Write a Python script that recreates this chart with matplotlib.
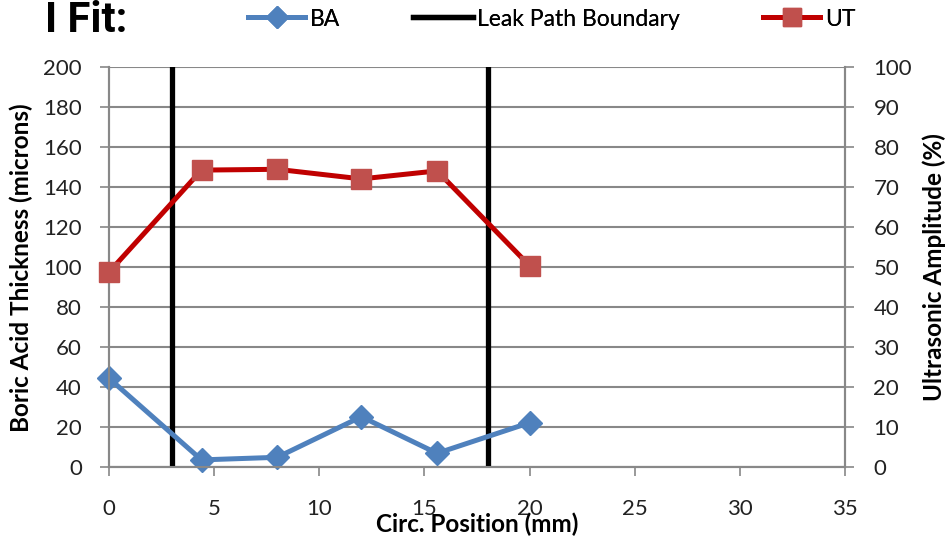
import matplotlib
matplotlib.use("Agg")
import matplotlib.pyplot as plt
from matplotlib.lines import Line2D

# data
position = [0, 4.4, 8, 12, 15.6, 20]
ba_thickness = [44.5, 3.7, 5.0, 25.3, 7.0, 22.3]
ut_amplitude = [48.8, 74.3, 74.5, 72.1, 74.1, 50.4]
leak_bounds = [3, 18]

x_ticks = [0, 5, 10, 15, 20, 25, 30, 35]
left_ticks = list(range(0, 201, 20))
right_ticks = list(range(0, 101, 10))

plt.rcParams["font.family"] = ["Lato", "DejaVu Sans"]

BLUE = "#4f81bd"
RED_LINE = "#c00000"
RED_MARK = "#c0504d"
GRID = "#888888"

fig = plt.figure(figsize=(9.51, 5.39), dpi=100)
ax = fig.add_axes([109 / 951, 1 - 467.3 / 539, 736 / 951, 400 / 539])
ax2 = ax.twinx()

ax.set_xlim(0, 35)
ax.set_ylim(0, 200)
ax2.set_ylim(0, 100)

ax.set_xticks(x_ticks)
ax.set_yticks(left_ticks)
ax2.set_yticks(right_ticks)

ax.grid(axis="y", color=GRID, lw=1.5)
ax.set_axisbelow(True)

for a in (ax, ax2):
    a.spines["top"].set_visible(False)
    for side in ("left", "right", "bottom"):
        a.spines[side].set_color(GRID)
        a.spines[side].set_linewidth(1.5)
    a.tick_params(direction="out", length=6.5, width=1.2, color=GRID,
                  labelsize=16, labelcolor="#222222")

ax.tick_params(axis="x", pad=16)
ax.tick_params(axis="y", pad=13)
ax2.tick_params(axis="y", pad=14)

for xb in leak_bounds:
    ax.axvline(xb, color="black", lw=3.8, zorder=3)

ax.plot(position, ba_thickness, color=BLUE, lw=3.6, marker="D", ms=12.5,
        mfc=BLUE, mec=BLUE, zorder=4, clip_on=False)
ax2.plot(position, ut_amplitude, color=RED_LINE, lw=3.6, marker="s", ms=14.5,
         mfc=RED_MARK, mec=RED_MARK, zorder=4, clip_on=False)

ax.set_xlabel("Circ. Position (mm)", fontsize=17.5, fontweight="bold")
ax.xaxis.set_label_coords(0.5, -0.112)
ax.set_ylabel("Boric Acid Thickness (microns)", fontsize=17.5,
              fontweight="bold")
ax.yaxis.set_label_coords(-0.103, 0.5)
ax2.set_ylabel("Ultrasonic Amplitude (%)", fontsize=17.5, fontweight="bold",
               rotation=90)
ax2.yaxis.set_label_coords(1.1046, 0.5)

fig.text(45 / 951, 1 - 21 / 539, "I Fit:", fontsize=30, fontweight="bold",
         va="center", ha="left", family=["Roboto", "DejaVu Sans"])

# legend entries placed one by one to match the spacing of the original
entries = [
    (Line2D([], [], color=BLUE, lw=3.6, marker="D", ms=11), "BA", 248, 2.5),
    (Line2D([], [], color="black", lw=3.8), "Leak Path Boundary", 413, 2.6),
    (Line2D([], [], color=RED_LINE, lw=3.6, marker="s", ms=13,
            mfc=RED_MARK, mec=RED_MARK), "UT", 763, 2.5),
]
for handle, label, x0, hl in entries:
    leg = fig.legend([handle], [label], loc="center left",
                     bbox_to_anchor=(x0 / 951, 1 - 19 / 539),
                     frameon=False, fontsize=16.5, handlelength=hl,
                     handletextpad=0.2, borderpad=0, borderaxespad=0)
    fig.add_artist(leg)

fig.savefig("out.png", dpi=100)
